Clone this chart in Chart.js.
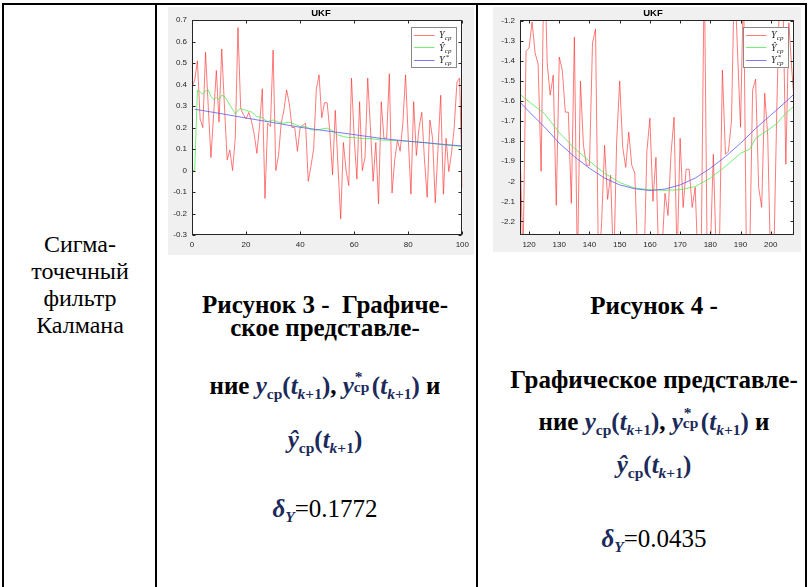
<!DOCTYPE html>
<html>
<head>
<meta charset="utf-8">
<script src="https://cdn.jsdelivr.net/npm/chart.js@4.4.1/dist/chart.umd.min.js"></script>
<style>
  html, body { margin: 0; padding: 0; background: #fff; }
  body { width: 812px; height: 587px; position: relative; overflow: hidden; color: #000; }
  .rule { position: absolute; background: #000; }
  .fig { position: absolute; background: #f0f0f0; }
  .ln { position: absolute; white-space: nowrap; text-align: center; height: 30px; line-height: 30px; }
  html body div.ln, html body div.ln span, html body div.ln i { font-family: 'Liberation Serif', serif !important; }
  .cell { font-size: 24px; left: 0; width: 160px; }
  .cap { font-size: 25px; font-weight: bold; }
  .c1 { left: 125px; width: 400px; }
  .c2 { left: 454px; width: 400px; }
  .m { color: #1b2a5a; font-style: italic; font-weight: bold; }
  .mu { color: #1b2a5a; font-weight: bold; font-style: normal; }
  .sb { font-size: 0.62em; position: relative; top: 0.32em; }
  .st { display: inline-block; position: relative; width: 0.72em; height: 1em; }
  .st .a { position: absolute; left: 0.05em; top: 0.02em; font-size: 0.62em; line-height: 1; }
  .st .b { position: absolute; left: 0; top: 0.62em; font-size: 0.62em; line-height: 1; }
  .reg { font-weight: normal; }
</style>
</head>
<body>

<!-- table rules -->
<div class="rule" style="left:2px; top:3px; width:805px; height:2px;"></div>
<div class="rule" style="left:2px; top:3px; width:2px; height:584px;"></div>
<div class="rule" style="left:155px; top:3px; width:2px; height:584px;"></div>
<div class="rule" style="left:476px; top:3px; width:2px; height:584px;"></div>
<div class="rule" style="left:805px; top:3px; width:2px; height:584px;"></div>

<!-- method name -->
<div class="ln cell" style="top:229px; font-family:'Liberation Serif', serif !important;">Сигма-</div>
<div class="ln cell" style="top:256px; font-family:'Liberation Serif', serif !important;">точечный</div>
<div class="ln cell" style="top:283px; font-family:'Liberation Serif', serif !important;">фильтр</div>
<div class="ln cell" style="top:310px; font-family:'Liberation Serif', serif !important;">Калмана</div>

<!-- caption, figure 3 -->
<div class="ln cap c1" style="top:290px; font-family:'Liberation Serif', serif !important;">Рисунок 3 -&nbsp; Графиче-</div>
<div class="ln cap c1" style="top:313px; font-family:'Liberation Serif', serif !important;">ское представле-</div>
<div class="ln cap c1" style="top:369px; font-family:'Liberation Serif', serif !important;">ние <span class="m">y</span><span class="mu sb">ср</span><span class="mu">(</span><span class="m">t</span><span class="mu sb"><i>k</i>+1</span><span class="mu">)</span>, <span class="m">y</span><span class="mu st"><span class="a">*</span><span class="b">ср</span></span><span class="mu">(</span><span class="m">t</span><span class="mu sb"><i>k</i>+1</span><span class="mu">)</span> и</div>
<div class="ln cap c1" style="top:425px; font-family:'Liberation Serif', serif !important;"><span class="m">ŷ</span><span class="mu sb">ср</span><span class="mu">(</span><span class="m">t</span><span class="mu sb"><i>k</i>+1</span><span class="mu">)</span></div>
<div class="ln cap c1" style="top:494px; font-family:'Liberation Serif', serif !important;"><span class="m">δ</span><span class="m sb">Y</span><span class="reg">=0.1772</span></div>

<!-- caption, figure 4 -->
<div class="ln cap c2" style="top:291px; font-family:'Liberation Serif', serif !important;">Рисунок 4 -</div>
<div class="ln cap c2" style="top:365px; font-family:'Liberation Serif', serif !important;">Графическое представле-</div>
<div class="ln cap c2" style="top:405px; font-family:'Liberation Serif', serif !important;">ние <span class="m">y</span><span class="mu sb">ср</span><span class="mu">(</span><span class="m">t</span><span class="mu sb"><i>k</i>+1</span><span class="mu">)</span>, <span class="m">y</span><span class="mu st"><span class="a">*</span><span class="b">ср</span></span><span class="mu">(</span><span class="m">t</span><span class="mu sb"><i>k</i>+1</span><span class="mu">)</span> и</div>
<div class="ln cap c2" style="top:450px; font-family:'Liberation Serif', serif !important;"><span class="m">ŷ</span><span class="mu sb">ср</span><span class="mu">(</span><span class="m">t</span><span class="mu sb"><i>k</i>+1</span><span class="mu">)</span></div>
<div class="ln cap c2" style="top:524px; font-family:'Liberation Serif', serif !important;"><span class="m">δ</span><span class="m sb">Y</span><span class="reg">=0.0435</span></div>

<!-- figure panels -->
<canvas id="ukf1" class="fig" width="306" height="248" style="left:168px; top:7px; width:306px; height:248px;"></canvas>
<canvas id="ukf2" class="fig" width="308" height="245" style="left:493px; top:7px; width:308px; height:245px;"></canvas>

<script>
// ---------- Figure 3: UKF, steps 0..100 ----------
const measured1Start = 0;
const measured1 = [
  0.39, 0.42, 0.51, 0.24, 0.20, 0.55, 0.30, 0.06, 0.26, 0.465,
  0.225, 0.565, 0.30, 0.05, 0.095, 0.00, 0.15, 0.665, 0.29, 0.26,
  0.24, 0.27, 0.23, 0.17, 0.08, 0.21, 0.38, -0.13, 0.22, 0.205,
  0.56, 0.00, 0.07, 0.22, 0.28, 0.375, 0.31, 0.20, 0.20, 0.09,
  0.20, 0.21, 0.22, -0.05, 0.02, 0.10, 0.38, 0.445, 0.245, 0.315,
  0.315, 0.18, -0.02, 0.28, 0.02, -0.225, 0.13, 0.00, -0.07, 0.43,
  0.15, -0.04, 0.32, 0.00, 0.06, 0.43, 0.20, -0.05, 0.13, -0.155,
  0.32, 0.15, 0.15, 0.45, -0.105, 0.05, 0.14, 0.09, 0.22, 0.445,
  0.15, -0.11, 0.32, 0.07, 0.20, 0.27, 0.05, -0.125, 0.235, 0.15,
  -0.15, 0.10, 0.35, -0.11, 0.15, -0.005, 0.08, 0.20, 0.41, 0.43,
  -0.08
];
const filtered1X = [0, 1, 2, 3, 4, 5, 6, 7, 8, 9, 10, 11, 12, 13, 14, 15, 16, 17, 18, 19,
  20, 21, 22, 23, 24, 25, 26, 27, 28, 30, 32, 34, 36, 38, 40, 42, 44, 46, 48, 50,
  52, 54, 56, 58, 60, 62, 66, 70, 74, 78, 82, 86, 90, 94, 98, 100];
const filtered1Y = [0, 0, 0.375, 0.365, 0.355, 0.37, 0.375, 0.345, 0.33, 0.34, 0.33, 0.35,
  0.345, 0.325, 0.305, 0.285, 0.262, 0.28, 0.288, 0.283,
  0.28, 0.275, 0.272, 0.262, 0.25, 0.25, 0.245, 0.235, 0.228, 0.235, 0.225, 0.22, 0.225,
  0.215, 0.205, 0.205, 0.19, 0.188, 0.193, 0.197,
  0.185, 0.165, 0.158, 0.153, 0.153, 0.15, 0.148, 0.142, 0.14, 0.138, 0.134, 0.13,
  0.124, 0.118, 0.114, 0.112];
const true1X = [1, 10, 20, 30, 40, 50, 60, 70, 80, 90, 100];
const true1Y = [0.285, 0.266, 0.244, 0.223, 0.201, 0.184, 0.167, 0.149, 0.136, 0.125, 0.114];
const xTicks1 = [0, 20, 40, 60, 80, 100];
const yTicks1 = [-0.3, -0.2, -0.1, 0, 0.1, 0.2, 0.3, 0.4, 0.5, 0.6, 0.7];

// ---------- Figure 4: UKF, steps 117..208 ----------
const measured2Start = 117;
const measured2 = [
  -1.83, -2.40, -1.35, -1.335, -1.205, -1.36, -1.415, -1.95, -0.80, -1.41,
  -1.57, -1.47, -2.12, -1.38, -1.445, -1.655, -1.655, -2.11, -1.28, -2.45,
  -1.50, -1.82, -1.92, -1.92, -1.31, -1.24, -2.45, -2.21, -1.82, -2.09,
  -1.97, -2.45, -1.80, -1.50, -1.83, -1.93, -1.755, -1.92, -1.96, -2.40,
  -2.30, -2.45, -1.85, -1.685, -2.10, -1.88, -2.45, -2.35, -2.06, -2.17,
  -1.86, -1.68, -2.40, -1.785, -2.13, -1.94, -1.94, -2.13, -2.03, -2.45,
  -2.35, -0.90, -2.45, -2.35, -1.865, -2.40, -2.35, -1.445, -1.865, -1.85,
  -1.70, -0.95, -1.35, -1.73, -1.00, -2.45, -2.40, -1.545, -1.49, -2.03,
  -2.13, -1.56, -1.77, -2.45, -2.40, -1.65, -1.00, -1.05, -1.915, -1.21,
  -1.45, -1.65
];
const filtered2X = [117, 120, 125, 130, 135, 140, 145, 150, 155, 160, 165, 170, 175, 180,
  185, 190, 193, 195, 199, 202, 205, 207.7];
const filtered2Y = [-1.566, -1.603, -1.661, -1.757, -1.835, -1.90, -1.96, -2.006, -2.034,
  -2.042, -2.045, -2.042, -2.026, -1.984, -1.926, -1.86, -1.84, -1.785, -1.745, -1.712,
  -1.66, -1.625];
const true2X = [117, 120, 125, 130, 135, 140, 145, 150, 155, 160, 165, 170, 175, 180,
  185, 190, 195, 200, 205, 207.7];
const true2Y = [-1.605, -1.653, -1.727, -1.81, -1.877, -1.935, -1.984, -2.018, -2.037,
  -2.046, -2.039, -2.018, -1.984, -1.935, -1.877, -1.81, -1.736, -1.67, -1.603, -1.565];
const xTicks2 = [120, 130, 140, 150, 160, 170, 180, 190, 200];
const yTicks2 = [-2.2, -2.1, -2, -1.9, -1.8, -1.7, -1.6, -1.5, -1.4, -1.3, -1.2];

// legend entries: base letter, superscript mark, subscript
const seriesNames = ['Y', 'Ŷ', 'Y'];
const seriesMarks = ['', '', '*'];
const seriesSub = 'cp';
const seriesColors = ['rgba(255,40,40,0.62)', 'rgba(70,235,70,0.75)', 'rgba(90,90,250,0.8)'];
const panelTitle = 'UKF';

const axisInk = '#262626';
const serifFace = "'Liberation Serif'";

// keep the table text in the serif face
function applySerif() {
  document.querySelectorAll('div.ln, div.ln span, div.ln i').forEach(el => {
    el.style.setProperty('font-family', "'Liberation Serif', serif", 'important');
  });
}
applySerif();
window.addEventListener('load', applySerif);
requestAnimationFrame(applySerif);

// white axes area, inward tick marks, box frame, title and legend
const matlabAxes = {
  id: 'matlabAxes',
  beforeDraw(chart) {
    const { ctx, chartArea: a } = chart;
    ctx.save();
    ctx.fillStyle = '#ffffff';
    ctx.fillRect(a.left, a.top, a.right - a.left, a.bottom - a.top);
    ctx.restore();
  },
  afterDatasetsDraw(chart, args, opts) {
    const { ctx, chartArea: a, scales } = chart;
    const L = Math.round(a.left) + 0.5, R = Math.round(a.right) - 0.5;
    const T = Math.round(a.top) + 0.5, B = Math.round(a.bottom) - 0.5;
    ctx.save();
    ctx.strokeStyle = axisInk;
    ctx.lineWidth = 1;
    ctx.beginPath();
    scales.x.ticks.forEach(t => {
      const p = Math.round(scales.x.getPixelForValue(t.value)) + 0.5;
      ctx.moveTo(p, B); ctx.lineTo(p, B - 3);
      ctx.moveTo(p, T); ctx.lineTo(p, T + 3);
    });
    scales.y.ticks.forEach(t => {
      const p = Math.round(scales.y.getPixelForValue(t.value)) + 0.5;
      ctx.moveTo(L, p); ctx.lineTo(L + 3, p);
      ctx.moveTo(R, p); ctx.lineTo(R - 3, p);
    });
    ctx.stroke();
    ctx.strokeRect(L, T, R - L, B - T);

    // title
    ctx.fillStyle = '#000';
    ctx.font = "bold 9.5px 'Liberation Sans', Arial, sans-serif";
    ctx.textAlign = 'center';
    ctx.textBaseline = 'middle';
    ctx.fillText(panelTitle, chart.width / 2 + opts.titleShift, 6.5);

    // legend
    const w = 45, h = 40;
    const bx = Math.round(a.right - 6.5 - w) + 0.5, by = Math.round(a.top + 6.5) + 0.5;
    ctx.fillStyle = '#fff';
    ctx.fillRect(bx, by, w, h);
    ctx.strokeStyle = '#8a8a8a';
    ctx.strokeRect(bx, by, w, h);
    chart.data.datasets.forEach((ds, i) => {
      const yy = by + 7 + i * 12.6;
      ctx.strokeStyle = ds.borderColor;
      ctx.lineWidth = 1;
      ctx.beginPath();
      ctx.moveTo(bx + 2.5, Math.round(yy) + 0.5);
      ctx.lineTo(bx + 23, Math.round(yy) + 0.5);
      ctx.stroke();
      ctx.fillStyle = axisInk;
      ctx.textAlign = 'left';
      ctx.textBaseline = 'alphabetic';
      ctx.font = 'italic 10px ' + serifFace;
      const tx = bx + 27.5;
      ctx.fillText(seriesNames[i], tx, yy + 3.5);
      ctx.font = 'italic 7px ' + serifFace;
      ctx.fillText(seriesSub, tx + 5.8, yy + 5.5);
      if (seriesMarks[i]) ctx.fillText(seriesMarks[i], tx + 6.4, yy - 0.5);
    });
    ctx.restore();
  }
};

function zip(xs, ys) { return xs.map((x, i) => ({ x: x, y: ys[i] })); }
function series(start, values) { return values.map((v, i) => ({ x: start + i, y: v })); }

function makePanel(id, cfg) {
  const tickFont = { family: "'Liberation Sans', Arial, sans-serif", size: 8 };
  return new Chart(document.getElementById(id), {
    type: 'line',
    data: {
      datasets: [
        { label: 'Ycp', data: series(cfg.start, cfg.measured), borderColor: seriesColors[0], order: 3 },
        { label: 'Ŷcp', data: zip(cfg.fx, cfg.fy), borderColor: seriesColors[1], order: 2 },
        { label: 'Y*cp', data: zip(cfg.tx, cfg.ty), borderColor: seriesColors[2], order: 1 }
      ]
    },
    options: {
      responsive: false,
      animation: false,
      events: [],
      devicePixelRatio: 1,
      layout: { padding: { top: cfg.padTop, right: cfg.padRight, left: 0, bottom: 0 } },
      elements: {
        line: { borderWidth: 1, tension: 0, fill: false },
        point: { radius: 0 }
      },
      scales: {
        x: {
          type: 'linear', min: cfg.xMin, max: cfg.xMax,
          grid: { display: false, drawTicks: false },
          border: { display: false },
          afterBuildTicks: s => { s.ticks = cfg.xTicks.map(v => ({ value: v })); },
          afterFit: s => { s.height = cfg.xAxisH; },
          ticks: { color: axisInk, font: tickFont, padding: 5, maxRotation: 0, autoSkip: false,
                   callback: v => String(v) }
        },
        y: {
          type: 'linear', min: cfg.yMin, max: cfg.yMax,
          grid: { display: false, drawTicks: false },
          border: { display: false },
          afterBuildTicks: s => { s.ticks = cfg.yTicks.map(v => ({ value: v })); },
          afterFit: s => { s.width = cfg.yAxisW; },
          ticks: { color: axisInk, font: tickFont, padding: 5, autoSkip: false,
                   callback: v => String(v) }
        }
      },
      plugins: {
        legend: { display: false },
        title: { display: false },
        tooltip: { enabled: false },
        matlabAxes: { titleShift: cfg.titleShift }
      }
    },
    plugins: [matlabAxes]
  });
}

makePanel('ukf1', {
  start: measured1Start, measured: measured1,
  fx: filtered1X, fy: filtered1Y, tx: true1X, ty: true1Y,
  xMin: 0, xMax: 100, yMin: -0.3, yMax: 0.7,
  xTicks: xTicks1, yTicks: yTicks1,
  padTop: 13, padRight: 8, xAxisH: 20, yAxisW: 24, titleShift: 0
});

makePanel('ukf2', {
  start: measured2Start, measured: measured2,
  fx: filtered2X, fy: filtered2Y, tx: true2X, ty: true2Y,
  xMin: 117, xMax: 207.7, yMin: -2.268, yMax: -1.195,
  xTicks: xTicks2, yTicks: yTicks2,
  padTop: 13, padRight: 7, xAxisH: 17, yAxisW: 27, titleShift: 6
});
</script>
</body>
</html>
